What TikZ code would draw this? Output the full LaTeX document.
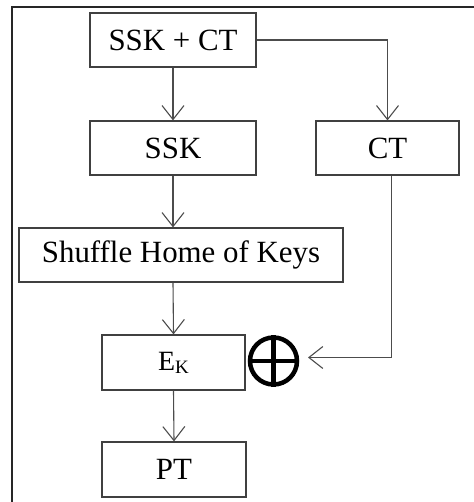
\documentclass[tikz,border=0pt]{standalone}
\usepackage{fontspec}
\setmainfont{Liberation Serif}
\usetikzlibrary{arrows.meta}
\begin{document}
\begin{tikzpicture}[x=1bp,y=-1bp,
  box/.style={draw=black!75, line width=1.2bp, fill=white, inner sep=0pt,
    font=\fontsize{31}{31}\selectfont},
  link/.style={draw=black!70, line width=1.1bp},
  arr/.style={link, -{Straight Barb[length=14bp,width=22bp,line width=1.1bp]}},
  xorsym/.style={circle, draw=black, line width=4.5bp, inner sep=0pt,
    minimum size=47bp}]
  \useasboundingbox (0,0) rectangle (474,502);
  % frame
  \draw[black!85, line width=1.3bp] (12,502) -- (12,7) -- (474,7);
  % blocks
  \node[box, minimum width=166bp, minimum height=54bp] (top) at (173,40) {SSK + CT};
  \node[box, minimum width=166bp, minimum height=54bp] (ssk) at (173,148) {SSK};
  \node[box, minimum width=143bp, minimum height=54bp] (ct) at (387.5,148) {CT};
  \node[box, minimum width=324bp, minimum height=54bp] (shuffle) at (181,255) {Shuffle Home of Keys};
  \node[box, minimum width=143bp, minimum height=55bp, font=\fontsize{28}{28}\selectfont]
    (ek) at (173.5,362.5) {E\raisebox{-3bp}{\fontsize{19}{19}\selectfont K}};
  \node[box, minimum width=144bp, minimum height=55bp] (pt) at (174,469.5) {PT};
  \node[xorsym] (xor) at (273.5,361) {};
  \draw[black, line width=4.5bp] (xor.north) -- (xor.south) (xor.west) -- (xor.east);
  \coordinate (xin) at (308,357.5);
  % connectors
  \draw[arr] (top.south) -- (ssk.north);
  \draw[arr] (top.east) -| (ct.north);
  \draw[arr] (ssk.south) -- (ssk.south |- shuffle.north);
  \draw[arr] (ssk.south |- shuffle.south) -- (ek.north);
  \draw[arr] (ek.south) -- (pt.north);
  \draw[arr] ([xshift=4bp]ct.south) |- (xin);
\end{tikzpicture}
\end{document}
